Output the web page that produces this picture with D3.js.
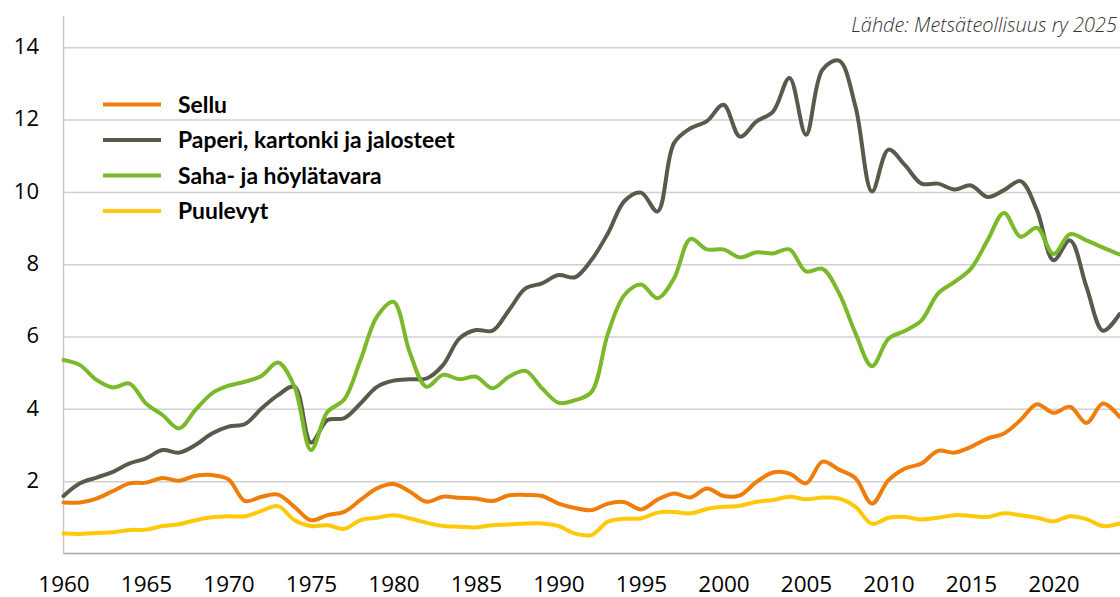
<!DOCTYPE html>
<html>
<head>
<meta charset="utf-8">
<script src="https://cdn.jsdelivr.net/npm/d3@7"></script>
<style>
html,body{margin:0;padding:0;background:#fff;}
svg{display:block;}
</style>
</head>
<body>
<svg id="chart" width="1120" height="597"></svg>
<script>
const years = d3.range(1960, 2025);
const seriesNames = ["Sellu", "Paperi, kartonki ja jalosteet", "Saha- ja höylätavara", "Puulevyt"];
const sellu = [1.41,1.41,1.52,1.73,1.94,1.96,2.09,2.01,2.15,2.17,2.05,1.45,1.57,1.63,1.29,0.92,1.06,1.15,1.48,1.80,
  1.92,1.71,1.43,1.57,1.54,1.52,1.45,1.61,1.62,1.59,1.38,1.26,1.20,1.38,1.42,1.22,1.49,1.66,1.55,1.80,
  1.59,1.61,1.98,2.24,2.21,1.94,2.54,2.32,2.08,1.38,2.03,2.35,2.49,2.84,2.79,2.95,3.18,3.32,3.69,4.13,
  3.89,4.06,3.61,4.15,3.78];
const paperi = [1.59,1.94,2.10,2.26,2.49,2.63,2.86,2.79,3.00,3.32,3.51,3.58,4.01,4.38,4.61,3.07,3.69,3.74,4.15,4.61,
  4.78,4.82,4.84,5.21,5.95,6.18,6.16,6.73,7.33,7.47,7.70,7.64,8.12,8.86,9.75,9.98,9.46,11.35,11.76,11.96,
  12.41,11.53,11.95,12.22,13.15,11.58,13.38,13.63,12.36,10.01,11.17,10.74,10.23,10.23,10.07,10.18,9.86,10.05,10.30,9.49,
  8.11,8.66,7.37,6.16,6.62];
const saha = [5.35,5.21,4.80,4.59,4.70,4.15,3.83,3.46,3.97,4.43,4.64,4.75,4.91,5.28,4.61,2.86,3.92,4.25,5.35,6.55,
  6.96,5.54,4.61,4.94,4.82,4.89,4.57,4.89,5.05,4.57,4.17,4.24,4.47,6.09,7.15,7.44,7.06,7.61,8.70,8.41,
  8.41,8.19,8.33,8.30,8.41,7.80,7.87,7.20,6.09,5.18,5.94,6.16,6.45,7.19,7.51,7.88,8.66,9.42,8.76,9.01,
  8.28,8.83,8.66,8.46,8.27];
const puulevyt = [0.55,0.54,0.57,0.59,0.65,0.66,0.76,0.81,0.92,1.00,1.03,1.03,1.18,1.31,0.92,0.76,0.78,0.68,0.92,0.99,
  1.06,0.97,0.85,0.76,0.74,0.72,0.78,0.80,0.83,0.83,0.76,0.55,0.51,0.88,0.96,0.97,1.13,1.15,1.11,1.23,
  1.29,1.32,1.43,1.48,1.57,1.50,1.55,1.52,1.29,0.82,0.99,1.01,0.94,0.99,1.06,1.04,1.01,1.11,1.06,0.99,
  0.89,1.03,0.95,0.76,0.83];
const yTicks = [2, 4, 6, 8, 10, 12, 14];
const xTickYears = [1960,1965,1970,1975,1980,1985,1990,1995,2000,2005,2010,2015,2020];
const sourceText = "Lähde: Metsäteollisuus ry 2025";
const colors = ["#EF7D0B", "#585A4C", "#7AB929", "#FFC90B"];

(function () {
const seriesData = [sellu, paperi, saha, puulevyt];
const svg = d3.select("#chart");
const mLeft = 63.5, mRight = 1120, mTop = 16, mBottom = 553.5;

const x = d3.scaleLinear().domain([1960, 2024]).range([mLeft, mLeft + 64 * 16.5]);
const y = d3.scaleLinear().domain([0, 14]).range([mBottom, 47.3]);

// gridlines
svg.append("g").attr("class", "grid")
  .attr("transform", `translate(${mLeft},0)`)
  .call(d3.axisLeft(y).tickValues(yTicks).tickSize(-(mRight - mLeft)).tickFormat(""))
  .call(g => g.select(".domain").remove())
  .call(g => g.selectAll("line").attr("stroke", "#D0D0D0").attr("stroke-width", 1.5));

// y axis line
svg.append("line").attr("x1", mLeft).attr("x2", mLeft).attr("y1", mTop).attr("y2", mBottom)
  .attr("stroke", "#C8C8C8").attr("stroke-width", 1.5);
// x axis line
svg.append("line").attr("x1", mLeft).attr("x2", mRight).attr("y1", mBottom).attr("y2", mBottom)
  .attr("stroke", "#A8A8A8").attr("stroke-width", 1.5);

// y tick labels
svg.append("g")
  .attr("transform", `translate(39,0)`)
  .call(d3.axisLeft(y).tickValues(yTicks).tickSize(0).tickPadding(0))
  .call(g => g.select(".domain").remove())
  .call(g => g.selectAll("text")
    .attr("font-family", "'Open Sans', sans-serif").attr("font-size", 22).attr("fill", "#000")
    .attr("text-anchor", "end").attr("dy", "0.28em"));

// x tick labels
svg.append("g")
  .attr("transform", `translate(0,${mBottom})`)
  .call(d3.axisBottom(x).tickValues(xTickYears).tickSize(0).tickPadding(0).tickFormat(d3.format("d")))
  .call(g => g.select(".domain").remove())
  .call(g => g.selectAll("text")
    .attr("font-family", "'Open Sans', sans-serif").attr("font-size", 22.5).attr("fill", "#000")
    .attr("y", 38).attr("dy", 0));

// lines
const line = d3.line().x((d, i) => x(years[i])).y(d => y(d)).curve(d3.curveCatmullRom.alpha(0.5));
const plotG = svg.append("g");
seriesData.forEach((s, i) => {
  plotG.append("path").datum(s).attr("d", line)
    .attr("fill", "none").attr("stroke", colors[i]).attr("stroke-width", 4)
    .attr("stroke-linejoin", "round").attr("stroke-linecap", "round");
});

// legend
const legendYs = [104.5, 140, 175.5, 211];
const lg = svg.append("g");
seriesNames.forEach((n, i) => {
  lg.append("line").attr("x1", 103).attr("x2", 161).attr("y1", legendYs[i]).attr("y2", legendYs[i])
    .attr("stroke", colors[i]).attr("stroke-width", 4);
  lg.append("text").attr("x", 178).attr("y", legendYs[i]).attr("dy", "0.35em")
    .attr("font-family", "Lato, 'Open Sans', sans-serif").attr("font-weight", 700)
    .attr("font-size", 20).attr("fill", "#000").text(n);
});
const lt = lg.selectAll("text");
const w = lt.nodes()[1].getComputedTextLength();
lt.attr("font-size", (20 * 277 / w).toFixed(2));

// source
const src = svg.append("text").attr("x", 1117).attr("y", 31.5).attr("text-anchor", "end")
  .attr("font-family", "'Open Sans', sans-serif").attr("font-style", "italic").attr("font-weight", 300)
  .attr("font-size", 18).attr("fill", "#333").text(sourceText);
const sw = src.node().getComputedTextLength();
src.attr("font-size", (18 * 266 / sw).toFixed(2));
})();
</script>
</body>
</html>
